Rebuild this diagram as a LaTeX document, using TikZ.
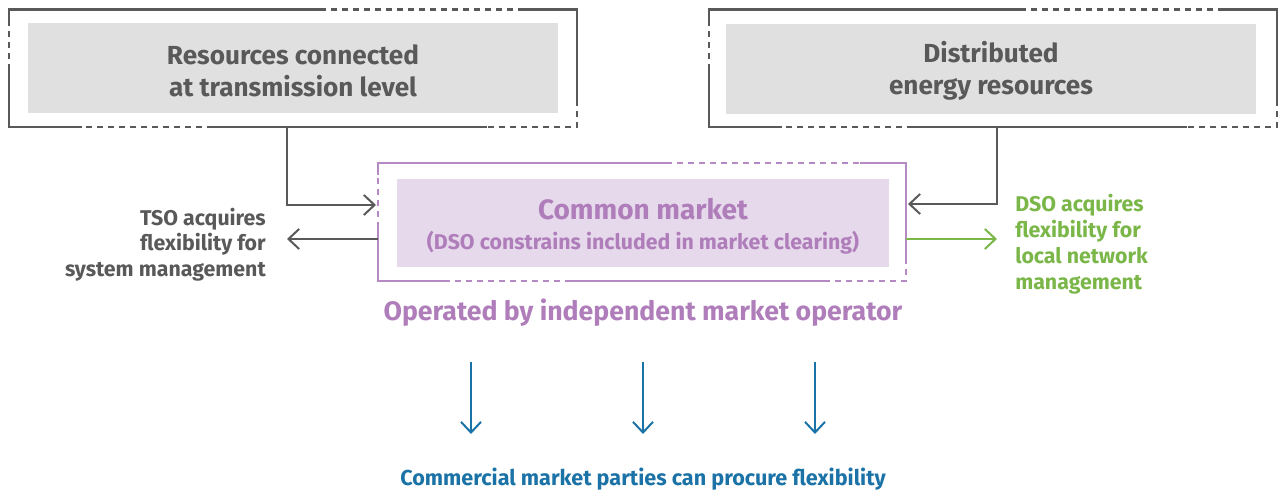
\documentclass[tikz,border=0pt]{standalone}
\usepackage{fontspec}
\setmainfont{Fira Sans}
\usetikzlibrary{arrows.meta}
\definecolor{gline}{HTML}{595959}
\definecolor{gfill}{HTML}{E0E0E0}
\definecolor{pline}{HTML}{B58AC2}
\definecolor{pfill}{HTML}{E5D9EB}
\definecolor{ptext}{HTML}{B07DBB}
\definecolor{dsogreen}{HTML}{7AB648}
\definecolor{blu}{HTML}{1A72A6}
\begin{document}
\begin{tikzpicture}[x=0.75pt,y=-0.75pt,
  fr/.style={line width=1.6pt},
  dsh/.style={line width=1.6pt,dash pattern=on 4.5pt off 3.75pt},
  tip/.style={-{Straight Barb[length=8pt,width=15pt]},line width=1.5pt},
  gbox/.style={fill=gfill,draw=none,minimum width=397.5pt,minimum height=67.5pt,inner sep=0pt},
  htext/.style={text=gline,align=center,font=\fontsize{19.6}{24}\selectfont\bfseries},
  side/.style={inner sep=0pt,font=\fontsize{16}{19}\selectfont\bfseries}
]
\useasboundingbox (0,0) rectangle (1279,491);

% inner boxes
\node[gbox] (res) at (293,68) {};
\node[htext] (rest) at (293,70.5) {Resources connected\\at transmission level};
\node[gbox] (der) at (991,69) {};
\node[htext] (dert) at (991,70.5) {Distributed\\energy resources};
\node[fill=pfill,draw=none,minimum width=369pt,minimum height=66pt,inner sep=0pt] (cm) at (643,223) {};
\node[text=ptext,font=\fontsize{21}{24}\selectfont\bfseries] (cmt) at (643,209) {Common market};
\node[text=ptext,font=\fontsize{16}{19}\selectfont\bfseries] (cms) at (643,243) {(DSO constrains included in market clearing)};

% left frame
\begin{scope}[draw=gline]
\draw[fr] (9,20)--(9,9.5)--(320,9.5);
\draw[dsh] (320,9.5)--(523,9.5);
\draw[fr] (523,9.5)--(577,9.5)--(577,100);
\draw[dsh] (577,100)--(577,127)--(487,127);
\draw[fr] (487,127)--(213,127);
\draw[dsh] (213,127)--(82,127);
\draw[fr] (82,127)--(9,127)--(9,70);
\draw[dsh] (9,70)--(9,20);
\end{scope}
% right frame
\begin{scope}[draw=gline,xshift=525pt]
\draw[fr] (9,20)--(9,9.5)--(320,9.5);
\draw[dsh] (320,9.5)--(523,9.5);
\draw[fr] (523,9.5)--(577,9.5)--(577,100);
\draw[dsh] (577,100)--(577,127)--(487,127);
\draw[fr] (487,127)--(213,127);
\draw[dsh] (213,127)--(82,127);
\draw[fr] (82,127)--(9,127)--(9,70);
\draw[dsh] (9,70)--(9,20);
\end{scope}
% middle frame
\begin{scope}[draw=pline]
\draw[fr] (378,175)--(378,163)--(666,163);
\draw[dsh] (666,163)--(860,163);
\draw[fr] (860,163)--(906,163)--(906,258);
\draw[dsh] (906,258)--(906,281)--(825,281);
\draw[fr] (825,281)--(571,281);
\draw[dsh] (571,281)--(448,281);
\draw[fr] (448,281)--(378,281)--(378,228);
\draw[dsh] (378,228)--(378,175);
\end{scope}

% connector coordinates
\coordinate (resout) at (287,127);
\coordinate (cminL) at (376,205);
\coordinate (derout) at (997,127);
\coordinate (cminR) at (908,204);
\coordinate (cmoutL) at (378,239);
\coordinate (cmoutR) at (906,239);

% side texts
\node[side,text=gline,align=right,anchor=east] (tso) at (266,244.5) {TSO acquires\\flexibility for\\system management};
\node[side,text=dsogreen,align=left,anchor=west,font=\fontsize{16}{19.4}\selectfont\bfseries] (dso) at (1015,244) {DSO acquires\\flexibility for\\local network\\management};

\draw[tip,gline] (resout) |- (cminL);
\draw[tip,gline] (derout) |- (cminR);
\draw[tip,gline] (cmoutL) -- (287,239) coordinate (tsoend);
\draw[tip,dsogreen] (cmoutR) -- (997,239) coordinate (dsoend);

\node[text=ptext,font=\fontsize{20}{24}\selectfont\bfseries] (op) at (643,313) {Operated by independent market operator};

% blue arrows
\foreach \x/\n in {471/a,643/b,815/c}{
  \coordinate (s\n) at (\x,362);
  \coordinate (e\n) at (\x,434);
  \draw[tip,blu] (s\n) -- (e\n);
}
\node[text=blu,font=\fontsize{16.2}{19}\selectfont\bfseries] (com) at (643,479) {Commercial market parties can procure flexibility};
\end{tikzpicture}
\end{document}
